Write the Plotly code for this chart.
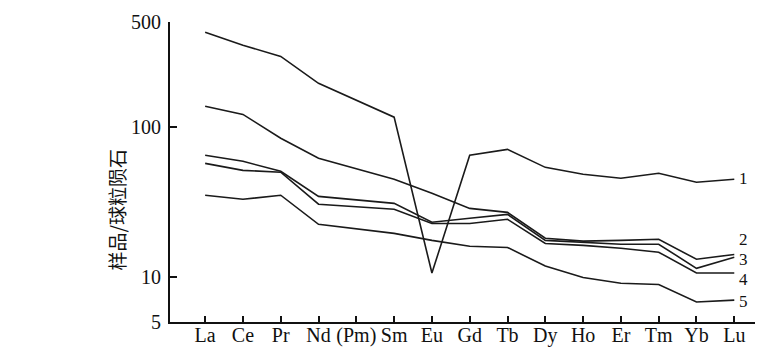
import math
import plotly.graph_objects as go

# Axis categories (Pm shown on axis, no data)
AXIS_LABELS = ["La", "Ce", "Pr", "Nd", "(Pm)", "Sm", "Eu", "Gd", "Tb", "Dy", "Ho", "Er", "Tm", "Yb", "Lu"]
ELEMENTS = ["La", "Ce", "Pr", "Nd", "Sm", "Eu", "Gd", "Tb", "Dy", "Ho", "Er", "Tm", "Yb", "Lu"]

# Chondrite-normalized values
s1 = [427, 350, 295, 195, 116, 10.6, 64.6, 70.8, 53.7, 48.3, 45.4, 49.0, 42.7, 44.7]
s2 = [137, 121, 83.9, 61.7, 44.7, 36.1, 28.6, 26.9, 18.1, 17.3, 17.5, 17.8, 13.1, 14.1]
s3 = [64.6, 58.9, 50.5, 34.4, 30.9, 23.1, 24.6, 26.1, 17.5, 17.0, 16.5, 16.5, 11.4, 13.5]
s4 = [57.1, 51.3, 49.8, 30.5, 28.2, 22.7, 22.7, 24.2, 16.7, 16.2, 15.5, 14.6, 10.6, 10.6]
s5 = [35.0, 32.9, 35.0, 22.4, 19.5, 17.5, 16.0, 15.7, 11.8, 9.9, 9.06, 8.9, 6.8, 7.0]

SERIES = [("1", s1), ("2", s2), ("3", s3), ("4", s4), ("5", s5)]
LABEL_SHIFT = {"1": 1, "2": 15, "3": -2, "4": -6, "5": -1}

Y_TICKS = [5, 10, 100, 500]
Y_TICK_TEXT = ["5", "10", "100", "500"]
Y_TITLE = "样品/球粒陨石"

fig = go.Figure()
for name, vals in SERIES:
    fig.add_trace(go.Scatter(
        x=ELEMENTS, y=vals, mode="lines", name=name,
        line=dict(color="#1a1a1a", width=1.6), showlegend=False,
        cliponaxis=False,
    ))
    fig.add_annotation(
        x=len(AXIS_LABELS) - 1 + 0.06, y=math.log10(vals[-1]),
        xref="x", yref="y", text=name, showarrow=False,
        xanchor="left", yanchor="middle", yshift=LABEL_SHIFT[name],
        font=dict(family="Liberation Serif", size=17, color="#111"),
    )

fig.add_annotation(
    x=-0.091, y=0.372, xref="paper", yref="paper", text=Y_TITLE,
    showarrow=False, textangle=-90, xanchor="center", yanchor="middle",
    font=dict(family="Noto Sans CJK SC", size=19, color="#111"),
)

# page body has an 8px default margin, so the figure is 8px smaller
fig.update_layout(
    width=755, height=341,
    margin=dict(l=162, r=0, t=14, b=27, autoexpand=False),
    paper_bgcolor="white", plot_bgcolor="white",
    xaxis=dict(
        type="category", categoryorder="array", categoryarray=AXIS_LABELS,
        tickvals=AXIS_LABELS, ticktext=AXIS_LABELS, automargin=False,
        range=[-0.93, 14.76], showgrid=False, zeroline=False,
        showline=True, linecolor="#111", linewidth=2,
        ticks="inside", ticklen=6, tickwidth=1.5, tickcolor="#111",
        ticklabelstandoff=-6,
        tickfont=dict(family="Liberation Serif", size=20, color="#111"),
    ),
    yaxis=dict(
        type="log", range=[math.log10(5), math.log10(500)], automargin=False,
        tickmode="array", tickvals=Y_TICKS, ticktext=Y_TICK_TEXT,
        showgrid=False, zeroline=False,
        showline=True, linecolor="#111", linewidth=2,
        ticks="inside", ticklen=7, tickwidth=1.5, tickcolor="#111",
        ticklabelstandoff=3,
        tickfont=dict(family="Liberation Serif", size=20, color="#111"),
    ),
)

fig.write_html("out.html")
